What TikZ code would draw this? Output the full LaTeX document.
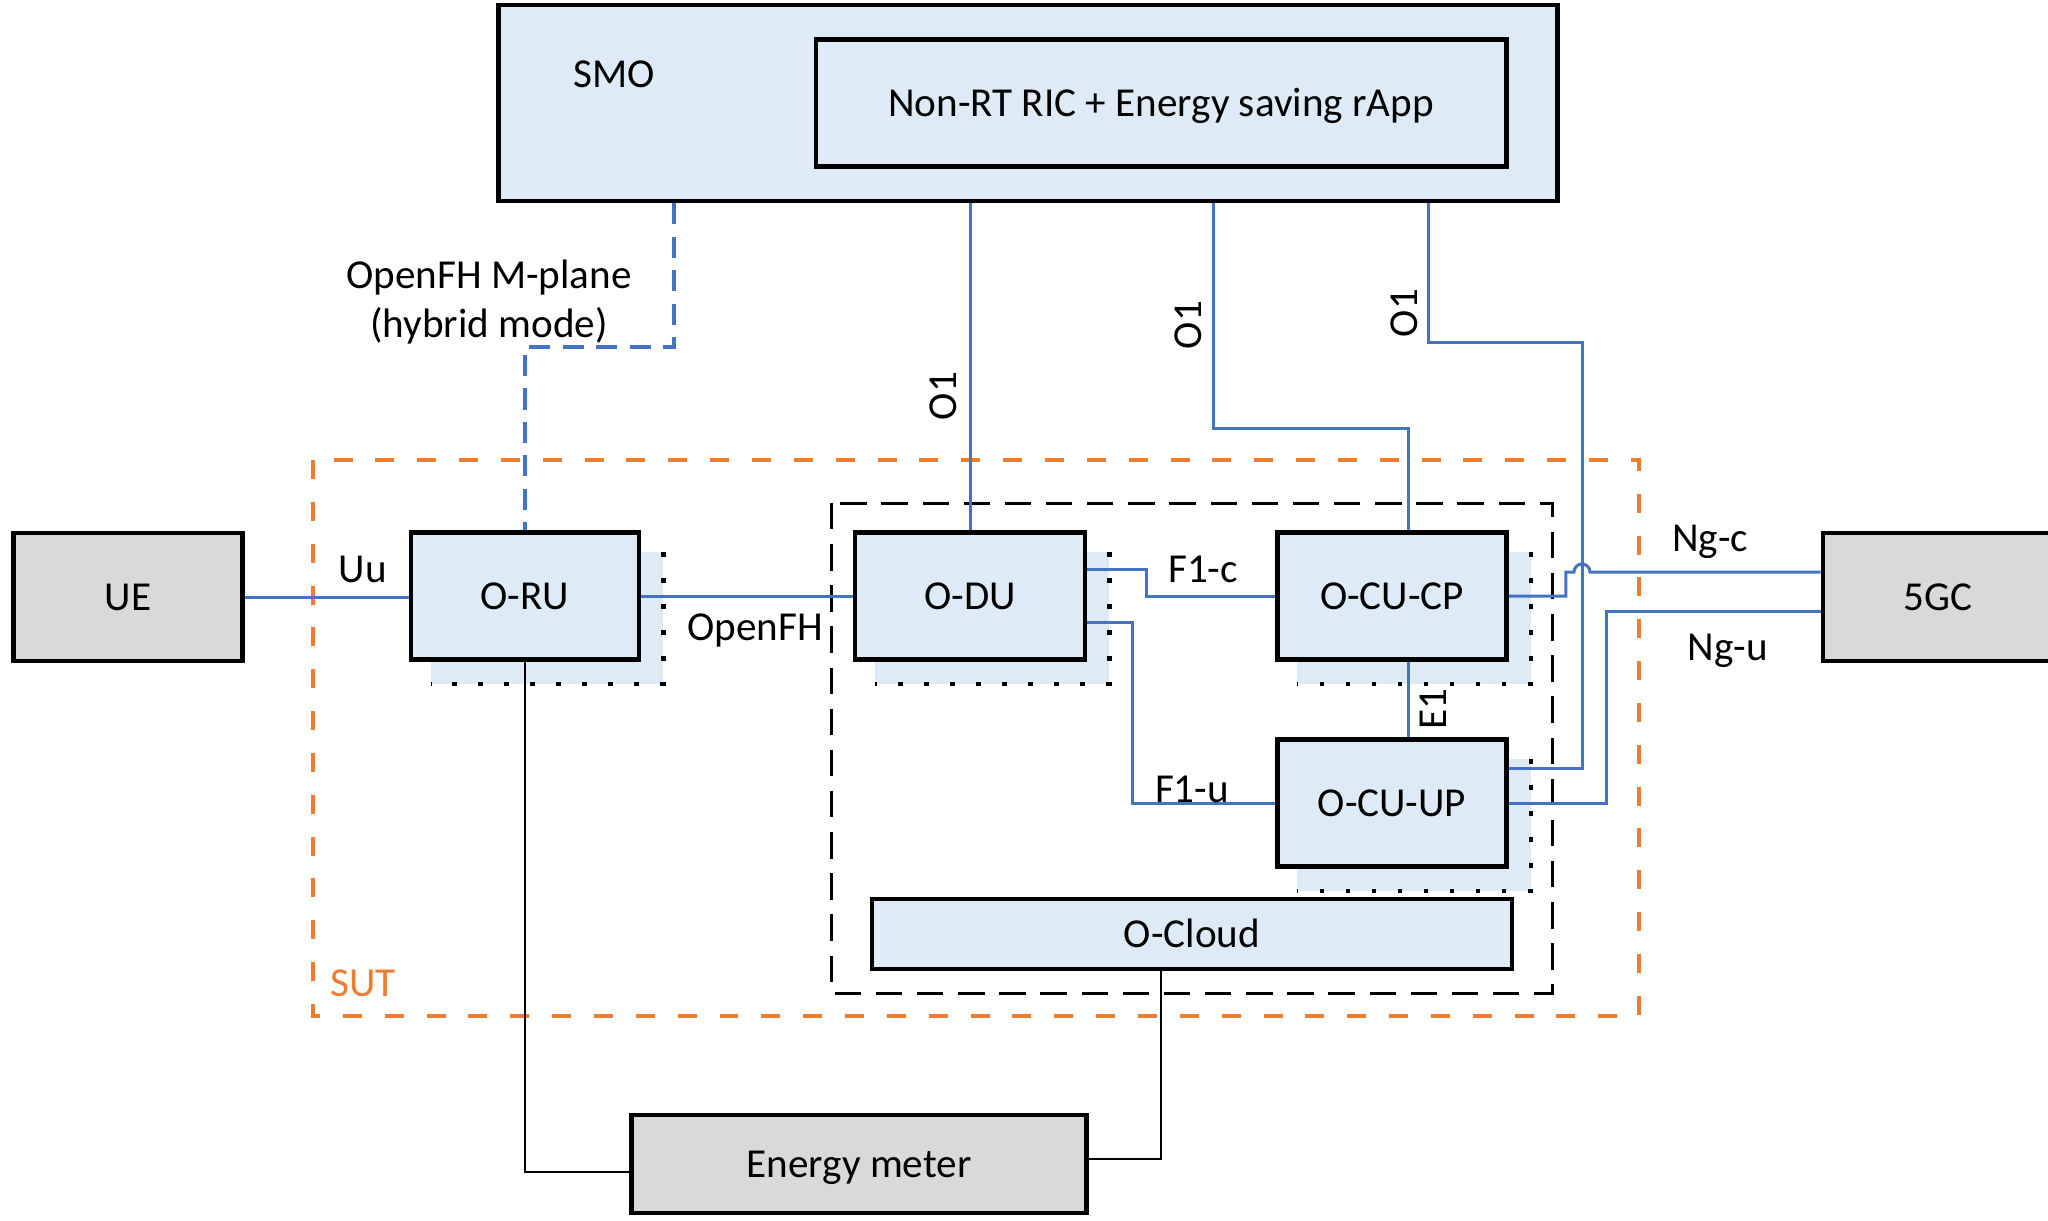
\documentclass[tikz,border=0pt]{standalone}
\usepackage{fontspec}
\setmainfont{Carlito}
\usetikzlibrary{calc}
\pgfdeclarelayer{bg}
\pgfsetlayers{bg,main}
\definecolor{boxblue}{HTML}{DEEBF7}
\definecolor{boxgray}{HTML}{D9D9D9}
\definecolor{lineblue}{HTML}{4472C4}
\definecolor{sutorange}{HTML}{ED7D31}
\newcommand\shadowof[1]{%
  \begin{pgfonlayer}{bg}
    \fill[boxblue] ($(#1.south west)+(22,22)$) rectangle ($(#1.north east)+(22,22)$);
    \draw[shdot] ($(#1.north east)+(22,22)$) -- ($(#1.south east)+(22,22)$) -- ($(#1.south west)+(22,22)$);
  \end{pgfonlayer}}
\tikzset{
  bbox/.style={draw=black, line width=1.3pt, fill=boxblue, rectangle, inner sep=0pt, text height=7.5pt, text depth=0pt},
  gbox/.style={draw=black, line width=1.3pt, fill=boxgray, rectangle, inner sep=0pt, text height=7.5pt, text depth=0pt},
  lbl/.style={inner sep=1pt},
  bline/.style={draw=lineblue, line width=0.85pt},
  mline/.style={draw=lineblue, line width=1pt, dash pattern=on 6pt off 3.5pt},
  kline/.style={draw=black, line width=0.8pt},
  shdot/.style={draw=black, line width=1.25pt, dash pattern=on 1.25pt off 6.15pt},
  sutbox/.style={draw=sutorange, line width=0.9pt, dash pattern=on 5.4pt off 6.5pt},
  vmbox/.style={draw=black, line width=0.85pt, dash pattern=on 7.5pt off 4.2pt},
}
\begin{document}
\begin{tikzpicture}[x=0.01cm,y=-0.01cm,font=\fontsize{11.7}{14}\selectfont]
\useasboundingbox (0,0) rectangle (2048,1220);

% frames
\draw[sutbox] (313,460) rectangle (1639,1016);
\node[lbl, text=sutorange] (sut) at (363,983) {SUT};
\draw[vmbox] (831,503) rectangle (1552,993);

% SMO
\node[bbox, minimum width=10.58cm, minimum height=1.96cm] (smo) at (1028,103) {};
\node[lbl] (smolbl) at (614,74) {SMO};
\node[bbox, fill=boxblue, minimum width=6.9cm, minimum height=1.27cm] (ric) at (1161,103) {Non-RT RIC + Energy saving rApp};

% boxes
\node[gbox, minimum width=2.29cm, minimum height=1.28cm] (ue) at (128,597) {UE};
\node[gbox, minimum width=2.30cm, minimum height=1.28cm] (fivegc) at (1938,597) {5GC};
\node[bbox, minimum width=2.28cm, minimum height=1.27cm] (oru) at (525,596) {O-RU};
\node[bbox, minimum width=2.30cm, minimum height=1.27cm] (odu) at (970,596) {O-DU};
\node[bbox, minimum width=2.29cm, minimum height=1.27cm] (ocucp) at (1392,596) {O-CU-CP};
\node[bbox, minimum width=2.29cm, minimum height=1.27cm] (ocuup) at (1392,803) {O-CU-UP};
\node[bbox, minimum width=6.40cm, minimum height=0.70cm] (ocloud) at (1192,934) {O-Cloud};
\node[gbox, minimum width=4.55cm, minimum height=0.98cm] (em) at (859,1164) {Energy meter};

\shadowof{oru}
\shadowof{odu}
\shadowof{ocucp}
\shadowof{ocuup}

% coordinates for bends
\coordinate (mp) at (674,347);
\coordinate (o1b) at (1213,428);
\coordinate (o1c) at (1428,342);
\coordinate (o1d) at (1582,768);

% M-plane
\draw[mline] (smo.south -| mp) -- (mp) -| (oru.north);
\node[lbl, align=center] (mplbl) at (489,302) {OpenFH M-plane\\(hybrid mode)};

% Uu, OpenFH
\draw[bline] (ue.east) -- (ue.east -| oru.west);
\node[lbl] (uulbl) at (363,569) {Uu};
\draw[bline] (oru.east) -- (oru.east -| odu.west);
\node[lbl] (fhlbl) at (755,630) {OpenFH};

% F1-c, F1-u, E1
\draw[bline] ($(odu.east)+(0,-27)$) -- ++(59,0) |- (ocucp.west);
\node[lbl] (f1clbl) at (1203,569) {F1-c};
\draw[bline] ($(odu.east)+(0,26)$) -- ++(45,0) |- (ocuup.west);
\node[lbl] (f1ulbl) at (1192,789) {F1-u};
\draw[bline] ($(ocucp.south)+(16,0)$) -- ($(ocuup.north)+(16,0)$);
\node[lbl, rotate=90] (e1lbl) at (1433,709) {E1};

% O1 links
\draw[bline] (smo.south -| odu.north) -- (odu.north);
\node[lbl, rotate=90] (o1a) at (943,396) {O1};
\draw[bline] (smo.south -| o1b) -- (o1b) -| ($(ocucp.north)+(16,0)$);
\node[lbl, rotate=90] (o1blbl) at (1188,325) {O1};
\draw[bline] (smo.south -| o1c) -- (o1c) -| (o1d) -- (ocuup.east |- o1d);
\node[lbl, rotate=90] (o1clbl) at (1404,313) {O1};

% Ng-c with hop, Ng-u
\draw[bline] (ocucp.east) -- ++(57,0) -- ++(0,-24) coordinate (ngc1)
  -- ($(ngc1 -| o1d)+(-8,0)$) arc[start angle=180, end angle=0, radius=0.08cm]
  -- (fivegc.west |- ngc1);
\node[lbl] (ngclbl) at (1710,542) {Ng-c};
\draw[bline] (ocuup.east) -- ++(98,0) |- ($(fivegc.west)+(0,14)$);
\node[lbl] (ngulbl) at (1728,651) {Ng-u};

% energy meter
\draw[kline] (oru.south) |- ($(em.west)+(0,8)$);
\draw[kline] ($(ocloud.south)+(-31,0)$) |- ($(em.east)+(0,-5)$);
\end{tikzpicture}
\end{document}
